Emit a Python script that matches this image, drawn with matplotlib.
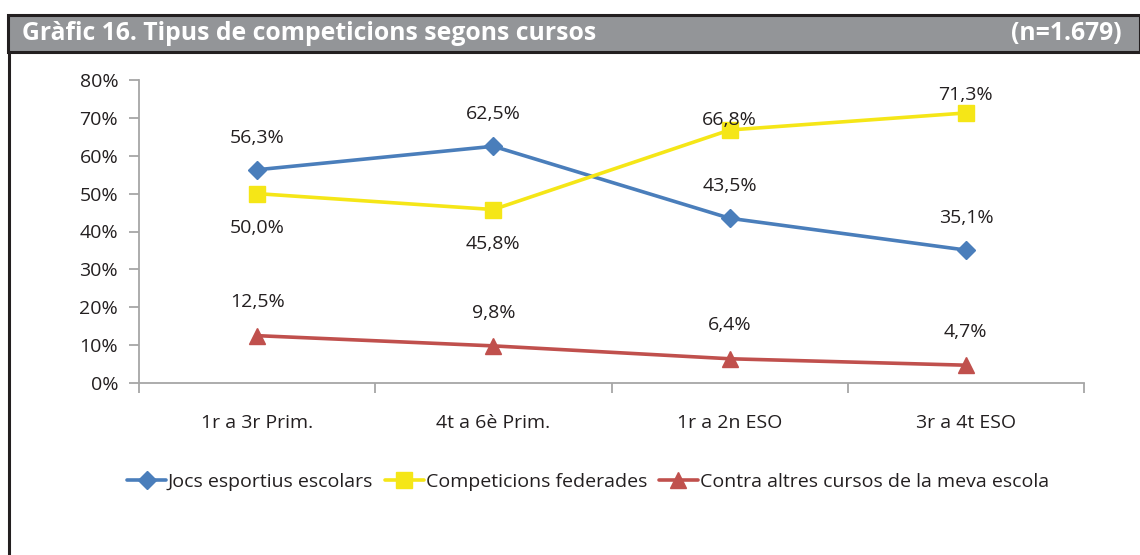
import matplotlib.pyplot as plt
from matplotlib.patches import Rectangle
from matplotlib.lines import Line2D

plt.rcParams['font.family'] = ['Open Sans', 'DejaVu Sans']

cursos = ['1r a 3r Prim.', '4t a 6è Prim.', '1r a 2n ESO', '3r a 4t ESO']
jocs = [56.3, 62.5, 43.5, 35.1]
federades = [50.0, 45.8, 66.8, 71.3]
contra = [12.5, 9.8, 6.4, 4.7]
noms = ['Jocs esportius escolars', 'Competicions federades',
        'Contra altres cursos de la meva escola']

# offsets for the value labels (points, + above / - below)
off_jocs = [23, 23, 23, 23]
off_fed = [-25, -25, 7, 13]
off_contra = [24, 24, 24, 24]

fig = plt.figure(figsize=(11.4, 5.55), dpi=100)

# title bar
W, H = 1140, 555
def fx(px): return px / W
def fy(py): return 1 - py / H
fig.patches.append(Rectangle((fx(8), fy(52)), fx(1140) - fx(8), fy(15) - fy(52),
                             transform=fig.transFigure, facecolor='#939598',
                             edgecolor='#231f20', linewidth=2.2))
fig.lines.append(Line2D([fx(8.5), fx(8.5)], [fy(52), 0], transform=fig.transFigure,
                        color='#231f20', linewidth=2.2))
fig.text(fx(22), fy(34), 'Gràfic 16. Tipus de competicions segons cursos',
         color='white', fontsize=17.8, fontweight='bold', va='center', ha='left')
fig.text(fx(1122), fy(34), '(n=1.679)', color='white', fontsize=17.8,
         fontweight='bold', va='center', ha='right')

ax = fig.add_axes([fx(139), fy(383), fx(1084) - fx(139), fy(80) - fy(383)])

x = range(len(cursos))
series = [
    (jocs, '#4A7EBB', 'D', 9, off_jocs),
    (federades, '#F5E617', 's', 12, off_fed),
    (contra, '#C0504D', '^', 11, off_contra),
]
for (vals, col, mk, ms, offs), nom in zip(series, noms):
    ax.plot(x, vals, color=col, marker=mk, markersize=ms, linewidth=2.6,
            label=nom, solid_capstyle='round')
    for xi, v, o in zip(x, vals, offs):
        ax.annotate(f'{v:.1f}%'.replace('.', ','), (xi, v), xytext=(0, o),
                    textcoords='offset points', ha='center', va='center',
                    fontsize=14, color='#231f20')

ax.set_xlim(-0.5, 3.5)
ax.set_ylim(0, 80)
ax.set_yticks(range(0, 81, 10))
ax.set_yticklabels([f'{v}%' for v in range(0, 81, 10)], fontsize=14, color='#231f20')
ax.set_xticks([-0.5, 0.5, 1.5, 2.5, 3.5])
ax.set_xticklabels([])
ax.set_xticks(list(x), minor=True)
ax.set_xticklabels(cursos, minor=True, fontsize=14, color='#231f20')
ax.tick_params(axis='x', which='minor', length=0, pad=22)
ax.tick_params(axis='x', which='major', length=7, color='#a6a6a6', width=1.3)
ax.tick_params(axis='y', length=7, color='#a6a6a6', width=1.3, pad=8)
for s in ['top', 'right']:
    ax.spines[s].set_visible(False)
for s in ['left', 'bottom']:
    ax.spines[s].set_color('#a6a6a6')
    ax.spines[s].set_linewidth(1.3)

fig.legend(loc='center', bbox_to_anchor=(fx(588), fy(482)), ncol=3, frameon=False,
           fontsize=14, handlelength=2.0, handletextpad=0.1, columnspacing=0.6,
           labelcolor='#231f20')

fig.savefig('out.png', dpi=100)
